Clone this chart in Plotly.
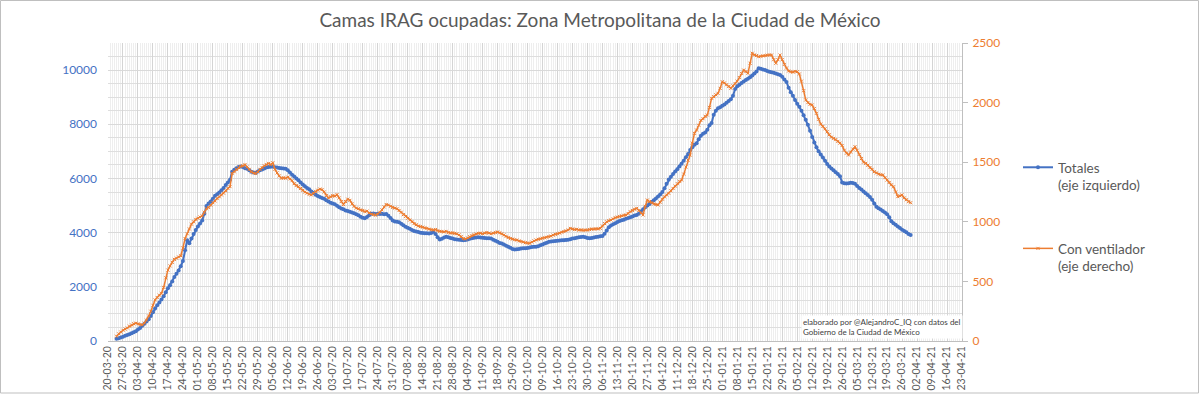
import plotly.graph_objects as go
import pandas as pd

# ---------------- data ----------------
start_date = "2020-03-24"

totales = [
    80, 100, 130, 160, 190, 220, 250, 290, 320, 360,
    420, 480, 560, 640, 720, 800, 920, 1060, 1200, 1320,
    1420, 1530, 1650, 1800, 1950, 2060, 2200, 2360, 2480, 2600,
    2760, 2950, 3350, 3720, 3610, 3780, 3950, 4100, 4230, 4340,
    4450, 4700, 4980, 5080, 5150, 5250, 5360, 5420, 5480, 5560,
    5650, 5760, 5850, 5950, 6250, 6320, 6380, 6420, 6440, 6420,
    6380, 6360, 6300, 6250, 6220, 6210, 6260, 6300, 6330, 6370,
    6400, 6420, 6430, 6440, 6410, 6400, 6390, 6380, 6370, 6360,
    6300, 6220, 6140, 6070, 6000, 5930, 5850, 5780, 5710, 5650,
    5600, 5520, 5460, 5400, 5350, 5320, 5280, 5250, 5200, 5150,
    5100, 5080, 5050, 4990, 4940, 4890, 4860, 4820, 4800, 4770,
    4740, 4720, 4680, 4640, 4590, 4550, 4530, 4580, 4640, 4700,
    4710, 4690, 4700, 4690, 4700, 4680, 4690, 4620, 4540, 4450,
    4410, 4400, 4380, 4330, 4270, 4220, 4180, 4140, 4100, 4060,
    4040, 4020, 4000, 3990, 3980, 3980, 3970, 3990, 4030, 3950,
    3830, 3750, 3770, 3820, 3850, 3830, 3800, 3780, 3760, 3750,
    3740, 3730, 3720, 3730, 3750, 3770, 3790, 3810, 3820, 3830,
    3820, 3810, 3800, 3790, 3790, 3780, 3740, 3700, 3660, 3620,
    3600, 3560, 3520, 3480, 3440, 3400, 3380, 3390, 3400, 3410,
    3420, 3420, 3430, 3450, 3470, 3480, 3480, 3500, 3530, 3560,
    3600, 3630, 3660, 3670, 3680, 3690, 3700, 3710, 3720, 3720,
    3730, 3740, 3760, 3780, 3790, 3810, 3830, 3840, 3850, 3830,
    3800, 3790, 3800, 3820, 3840, 3850, 3870, 3880, 3960, 4080,
    4200, 4260, 4310, 4350, 4390, 4430, 4460, 4480, 4510, 4540,
    4570, 4600, 4630, 4650, 4700, 4780, 4860, 4940, 5000, 5060,
    5130, 5200, 5260, 5330, 5410, 5500, 5640, 5800, 5960, 6060,
    6160, 6260, 6340, 6440, 6540, 6650, 6780, 6900, 7050, 7150,
    7240, 7300, 7450, 7580, 7650, 7700, 7800, 7960, 8050, 8350,
    8500, 8590, 8630, 8680, 8730, 8790, 8860, 8920, 9050, 9300,
    9400, 9460, 9520, 9580, 9630, 9680, 9740, 9800, 9870, 9950,
    10070, 10050, 10020, 10000, 9970, 9940, 9920, 9900, 9870, 9850,
    9820, 9750, 9650, 9560, 9350, 9180, 9050, 8900, 8760, 8650,
    8500, 8330, 8170, 7980, 7760, 7530, 7330, 7150, 7000, 6880,
    6770, 6650, 6530, 6440, 6370, 6300, 6230, 6160, 6080, 5850,
    5820, 5810, 5820, 5840, 5830, 5800, 5720, 5650, 5590, 5520,
    5450, 5390, 5320, 5210, 5080, 4960, 4900, 4850, 4800, 4740,
    4680, 4570, 4420, 4350, 4290, 4230, 4170, 4110, 4060, 4010,
    3950, 3910,
]

con_ventilador = [
    40, 60, 75, 90, 100, 110, 125, 135, 145, 150,
    145, 138, 135, 150, 175, 210, 250, 300, 345, 365,
    385, 400, 450, 530, 595, 630, 660, 685, 695, 705,
    715, 780, 860, 900, 940, 980, 1000, 1020, 1030, 1040,
    1050, 1080, 1110, 1120, 1140, 1160, 1175, 1195, 1210, 1225,
    1240, 1260, 1280, 1295, 1405, 1420, 1440, 1455, 1465, 1470,
    1480, 1460, 1440, 1420, 1410, 1405, 1420, 1440, 1455, 1470,
    1480, 1490, 1480, 1495, 1440, 1410, 1385, 1365, 1370, 1365,
    1375, 1360, 1345, 1320, 1305, 1295, 1280, 1265, 1250, 1240,
    1230, 1225, 1240, 1255, 1265, 1275, 1270, 1250, 1220, 1200,
    1210, 1220, 1215, 1228, 1200, 1170, 1145, 1170, 1190, 1180,
    1150, 1130, 1115, 1110, 1100, 1095, 1085, 1090, 1075, 1065,
    1060, 1055, 1065, 1080, 1100, 1125, 1145, 1140, 1130, 1120,
    1115, 1110, 1095, 1080, 1060, 1045, 1030, 1015, 1000, 985,
    975, 965, 960, 955, 950, 945, 938, 935, 930, 935,
    925, 920, 918, 915, 920, 910, 905, 908, 903, 900,
    890, 875, 860, 855, 865, 875, 885, 892, 898, 903,
    905, 900, 905, 910, 905, 900, 905, 910, 915, 908,
    900, 890, 878, 868, 860, 855, 850, 847, 840, 835,
    830, 825, 822, 820, 830, 840, 848, 853, 858, 862,
    866, 870, 875, 880, 888, 895, 900, 905, 912, 918,
    925, 932, 945, 940, 935, 938, 930, 933, 928, 932,
    930, 935, 940, 938, 942, 940, 945, 965, 985, 1000,
    1010, 1015, 1025, 1035, 1040, 1045, 1050, 1055, 1057, 1070,
    1085, 1095, 1105, 1113, 1095, 1075, 1057, 1130, 1183, 1170,
    1160, 1150, 1145, 1141, 1165, 1190, 1210, 1225, 1239, 1260,
    1280, 1300, 1320, 1340, 1351, 1400, 1460, 1518, 1560, 1660,
    1742, 1770, 1810, 1850, 1865, 1885, 1896, 1960, 2036, 2050,
    2065, 2078, 2120, 2175, 2165, 2150, 2135, 2120, 2140, 2160,
    2180, 2210, 2245, 2273, 2260, 2246, 2330, 2414, 2400, 2395,
    2385, 2388, 2392, 2395, 2398, 2400, 2399, 2360, 2330, 2360,
    2399, 2360, 2320, 2290, 2265, 2259, 2255, 2262, 2259, 2240,
    2180, 2100, 2022, 2000, 1985, 1980, 1950, 1910, 1860, 1820,
    1800, 1780, 1755, 1730, 1710, 1700, 1690, 1675, 1660, 1640,
    1600, 1575, 1560, 1585, 1610, 1630, 1600, 1565, 1530, 1500,
    1490, 1475, 1455, 1440, 1420, 1410, 1400, 1395, 1393, 1370,
    1350, 1330, 1310, 1294, 1250, 1211, 1218, 1225, 1200, 1185,
    1169, 1160,
]

title_text = "Camas IRAG ocupadas: Zona Metropolitana de la Ciudad de México"
name_totales = "Totales<br>(eje izquierdo)"
name_vent = "Con ventilador<br>(eje derecho)"
credit_text = "elaborado por @AlejandroC_IQ con datos del<br>Gobierno de la Ciudad de México"

x_start = "2020-03-20"
x_end = "2021-04-23"

dates_tot = pd.date_range(start_date, periods=len(totales), freq="D")
dates_ven = pd.date_range(start_date, periods=len(con_ventilador), freq="D")

BLUE = "#4472C4"
ORANGE = "#ED7D31"
GRAY = "#595959"
FONT = "Lato"

fig = go.Figure()
fig.add_trace(go.Scatter(
    x=dates_tot, y=totales, name=name_totales, yaxis="y",
    mode="lines+markers", legendgroup="a",
    line=dict(color=BLUE, width=2),
    marker=dict(symbol="circle", size=4, color=BLUE),
))
fig.add_trace(go.Scatter(
    x=dates_ven, y=con_ventilador, name=name_vent, yaxis="y2",
    mode="lines+markers", legendgroup="b",
    line=dict(color=ORANGE, width=1.5),
    marker=dict(symbol="x-thin", size=3, color=ORANGE, line=dict(color=ORANGE, width=1)),
))

L, R, T, B = 108, 238, 43, 54
W, H = 1200, 395
pw, ph = W - L - R, H - T - B

def px_x(x):
    return (x - L) / pw

def px_y(y):
    return (H - B - y) / ph

fig.update_layout(
    width=W, height=H,
    margin=dict(l=L, r=R, t=T, b=B, autoexpand=False),
    paper_bgcolor="white", plot_bgcolor="white",
    font=dict(family=FONT, color=GRAY),
    title=dict(text=title_text, x=0.5, xref="container", xanchor="center",
               y=1 - 20 / H, yref="container", yanchor="middle",
               font=dict(size=19, color=GRAY, family=FONT)),
    showlegend=True,
    legend=dict(x=px_x(1018), xanchor="left", y=px_y(152), yanchor="top",
                font=dict(size=13.5, color=GRAY, family=FONT),
                tracegroupgap=43, valign="top", bgcolor="rgba(0,0,0,0)",
                itemwidth=30),
    xaxis=dict(
        type="date", range=[x_start, x_end],
        tick0=x_start, dtick=7 * 86400000, tickformat="%d-%m-%y",
        tickangle=-90, tickfont=dict(size=10.5, color=GRAY, family=FONT),
        showgrid=True, gridcolor="#D4D4D4", gridwidth=1,
        minor=dict(dtick=86400000, tick0=x_start, showgrid=True, gridcolor="#EEEEEE", gridwidth=1),
        showline=True, linecolor="#BFBFBF", linewidth=1,
        ticks="", zeroline=False,
    ),
    yaxis=dict(
        range=[0, 11000], dtick=2000, tick0=0, tickformat="d",
        tickfont=dict(size=12, color=BLUE, family=FONT),
        showgrid=True, gridcolor="#D9D9D9", gridwidth=1,
        minor=dict(dtick=500, showgrid=True, gridcolor="#DEDEDE", gridwidth=1),
        ticks="", ticklabelstandoff=10, zeroline=False, showline=False,
    ),
    yaxis2=dict(
        range=[0, 2500], dtick=500, tick0=0, overlaying="y", side="right",
        tickformat="d",
        tickfont=dict(size=12, color=ORANGE, family=FONT),
        showgrid=False, zeroline=False,
        showline=True, linecolor="#BFBFBF", linewidth=1,
        ticks="outside", ticklen=5, tickcolor="#BFBFBF", ticklabelstandoff=2,
    ),
    annotations=[dict(
        text=credit_text, xref="paper", yref="paper",
        x=px_x(801), y=px_y(327), xanchor="left", yanchor="middle",
        align="left", showarrow=False, bgcolor="white",
        font=dict(size=8, color="#404040", family=FONT),
    )],
    shapes=[dict(
        type="rect", xref="paper", yref="paper",
        x0=px_x(0.5), x1=px_x(1198.5), y0=px_y(393), y1=px_y(0.5),
        line=dict(color="#BFBFBF", width=1), fillcolor="rgba(0,0,0,0)", layer="below",
    )],
)

fig.write_html(
    "out.html",
    config={"displayModeBar": False},
    post_script="document.body.style.margin='0';document.body.style.overflow='hidden';",
)
